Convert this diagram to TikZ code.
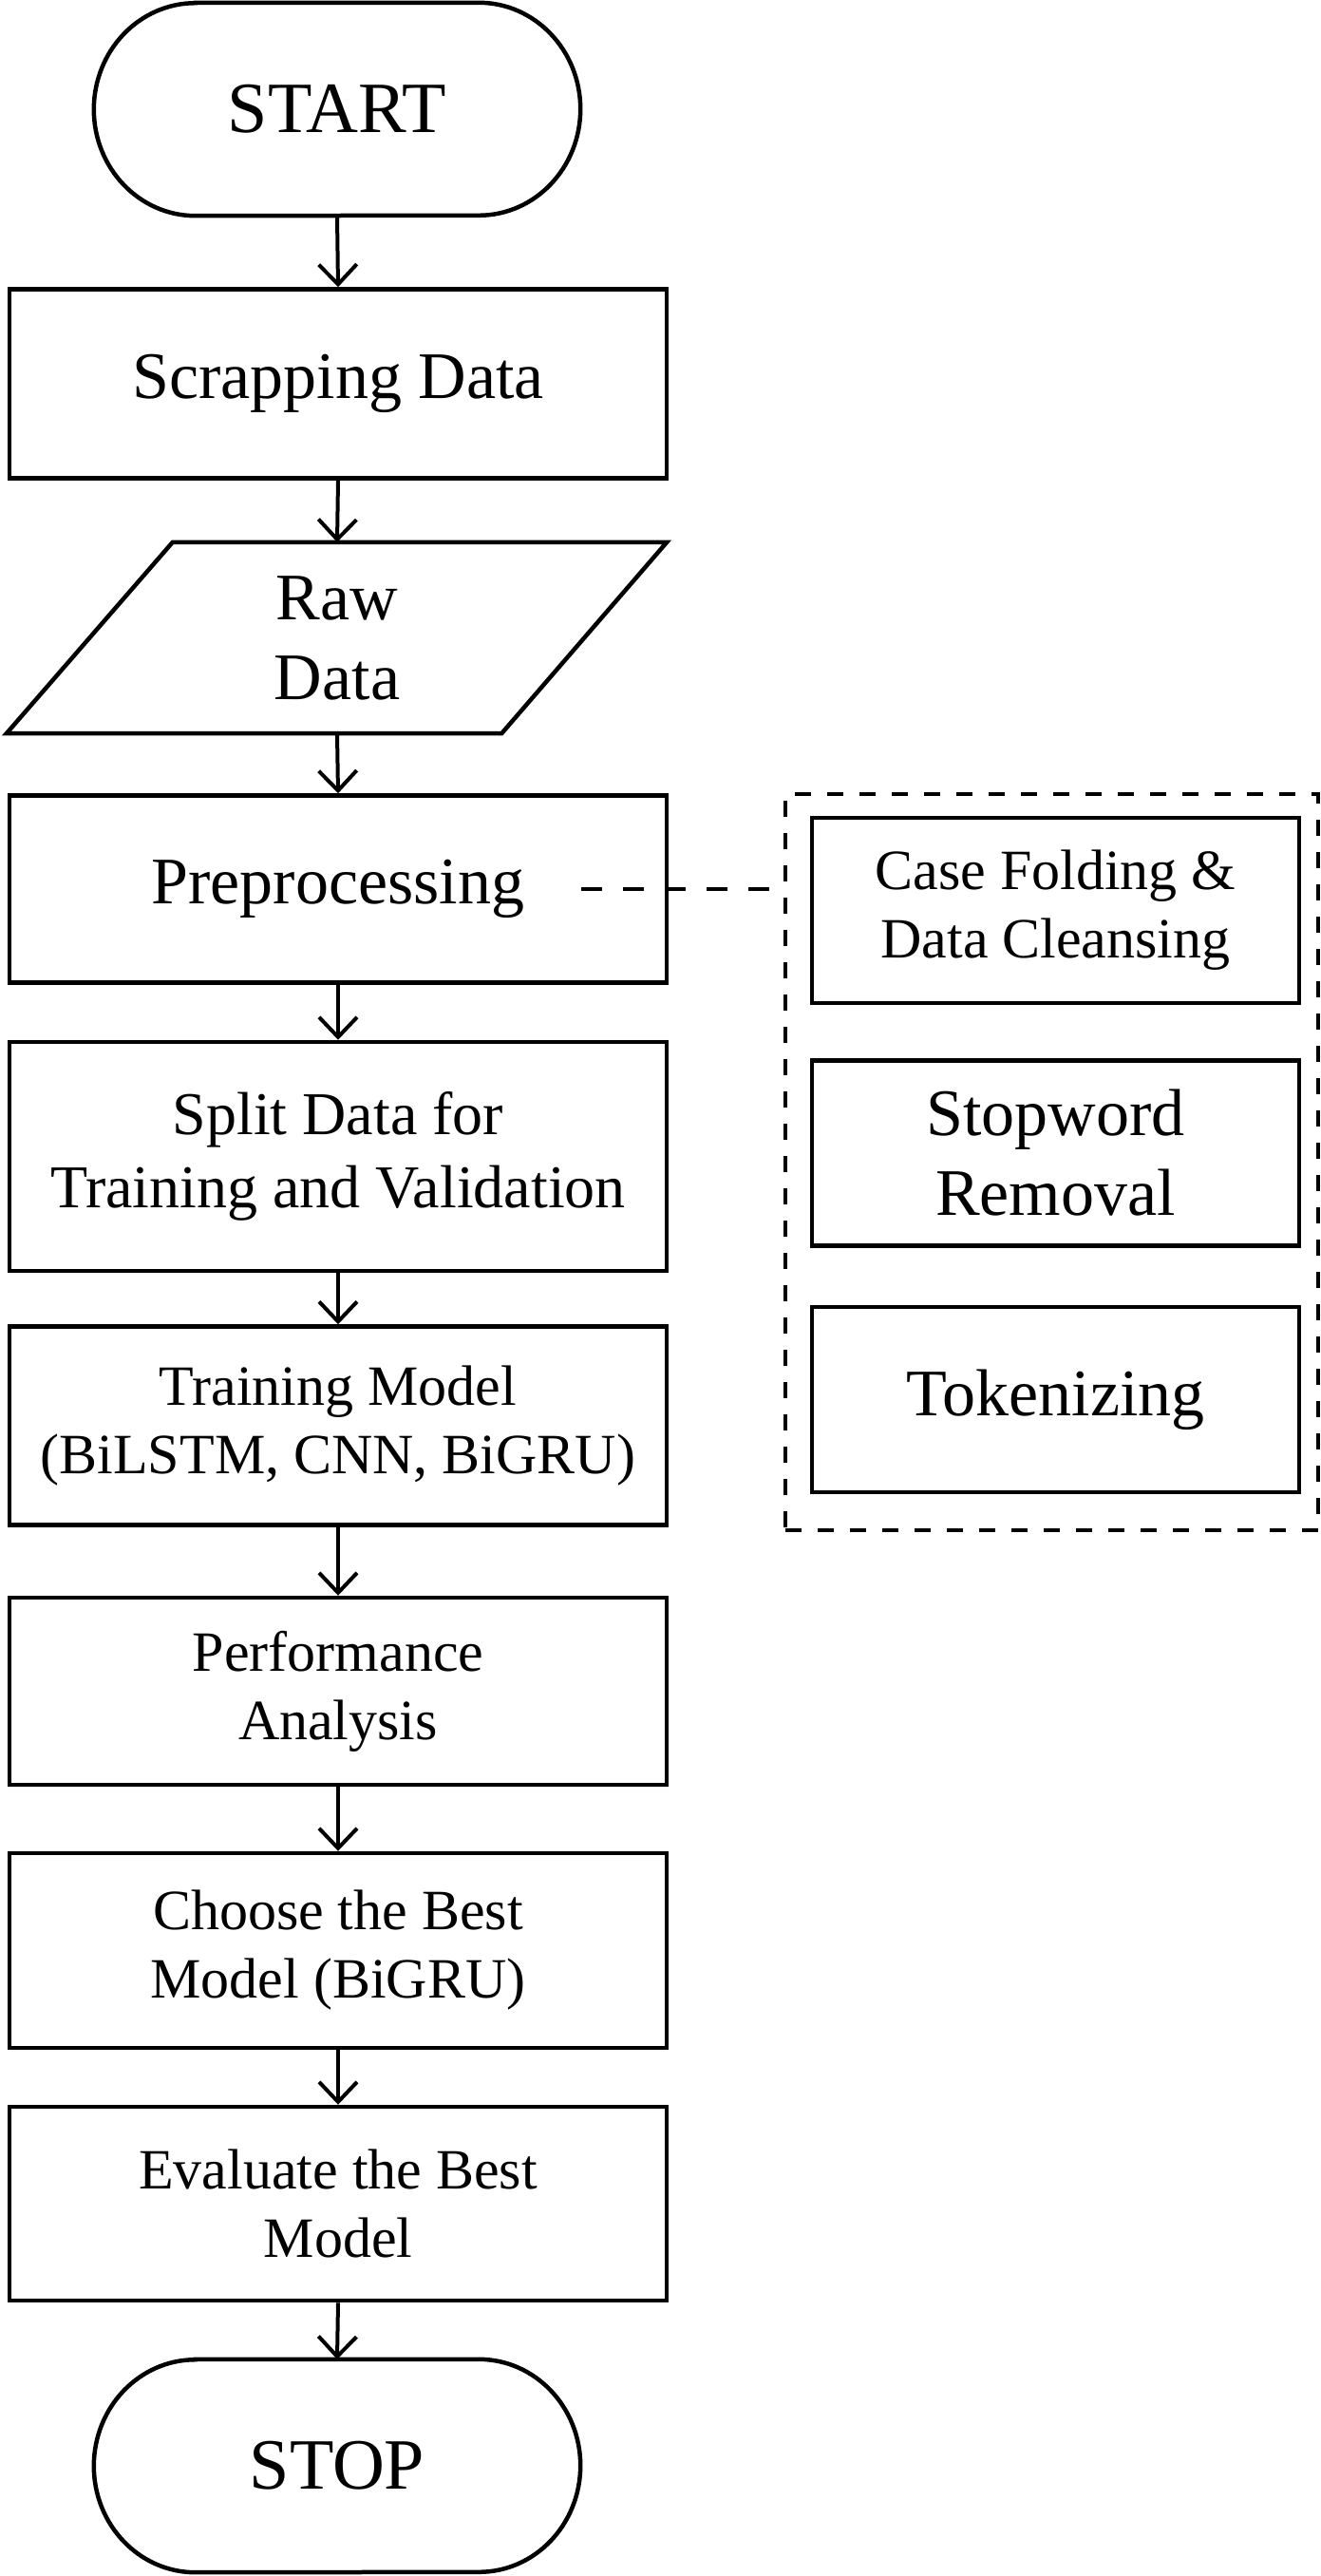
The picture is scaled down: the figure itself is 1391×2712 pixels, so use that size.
\documentclass[tikz,border=0pt]{standalone}
\usepackage{fontspec}
\setmainfont{Liberation Serif}
\usetikzlibrary{arrows.meta,calc}
\begin{document}
\begin{tikzpicture}[x=1pt,y=-1pt,
  box/.style={draw, line width=4.5pt, rectangle, align=center, minimum width=692pt, inner sep=0pt},
  sub/.style={draw, line width=4.5pt, rectangle, align=center, minimum width=513pt, minimum height=195pt, inner sep=0pt},
  term/.style={rectangle, minimum width=512pt, minimum height=224pt, inner sep=0pt, align=center},
  big/.style={font=\fontsize{76}{90}\selectfont},
  mid/.style={font=\fontsize{70}{84}\selectfont},
  sml/.style={font=\fontsize{60}{72}\selectfont},
  flow/.style={line width=4pt, -{Straight Barb[length=21pt,width=40pt,line width=4pt]}},
  dashline/.style={line width=4pt, dash pattern=on 17pt off 17pt},
  linkline/.style={line width=4pt, dash pattern=on 22pt off 22pt},
]
\useasboundingbox (0,0) rectangle (1391,2712);

% terminals
\node[term, big] (start) at (355,115) {START};
\node[term, big] (stop) at (355,2596) {STOP};
\foreach \n in {start,stop}{
  \draw[line width=4.5pt] ($(\n.north west)+(107,0)$) -- ($(\n.north east)+(-107,0)$)
    arc[start angle=-90, end angle=90, x radius=107, y radius=112]
    -- ($(\n.south west)+(107,0)$)
    arc[start angle=90, end angle=270, x radius=107, y radius=112] -- cycle;
}

% main column
\node[box, mid, minimum height=199pt] (scrap) at (356,404) {Scrapping Data};
\node[rectangle, minimum width=520pt, minimum height=201pt, inner sep=0pt, align=center, mid] (raw) at (355,671.5) {Raw\\Data};
\draw[line width=4.5pt, line join=miter] ($(raw.north west)+(87,0)$) -- ($(raw.north east)+(87,0)$)
  -- ($(raw.south east)+(-87,0)$) -- ($(raw.south west)+(-88,0)$) -- cycle;
\node[box, mid, minimum height=197pt] (pre) at (356,936) {Preprocessing};
\node[box, font=\fontsize{64}{77}\selectfont, minimum height=241pt] (split) at (356,1217.5) {Split Data for\\Training and Validation};
\node[box, sml, minimum height=209pt] (train) at (356,1501) {Training Model\\(BiLSTM, CNN, BiGRU)};
\node[box, sml, minimum height=197pt] (perf) at (356,1780.5) {Performance\\Analysis};
\node[box, sml, minimum height=205pt] (choose) at (356,2053.5) {Choose the Best\\Model (BiGRU)};
\node[box, sml, minimum height=204pt] (eval) at (356,2320) {Evaluate the Best\\Model};

% arrows
\draw[flow] (start.south) -- (scrap.north);
\draw[flow] (scrap.south) -- (raw.north);
\draw[flow] (raw.south) -- (pre.north);
\draw[flow] (pre.south) -- (split.north);
\draw[flow] (split.south) -- (train.north);
\draw[flow] (train.south) -- (perf.north);
\draw[flow] (perf.south) -- (choose.north);
\draw[flow] (choose.south) -- (eval.north);
\draw[flow] (eval.south) -- (stop.north);

% preprocessing group
\node[dashline, draw, rectangle, minimum width=561pt, minimum height=775pt, inner sep=0pt] (group) at (1107.5,1223.5) {};
\node[sub, sml] (case) at (1111.5,958.5) {Case Folding \&\\Data Cleansing};
\node[sub, mid] (stopw) at (1111.5,1214) {Stopword\\Removal};
\node[sub, mid] (tok) at (1111.5,1473.5) {Tokenizing};

\coordinate (dstart) at (612,936);
\draw[linkline] (dstart) -- (dstart -| group.west);
\end{tikzpicture}
\end{document}
